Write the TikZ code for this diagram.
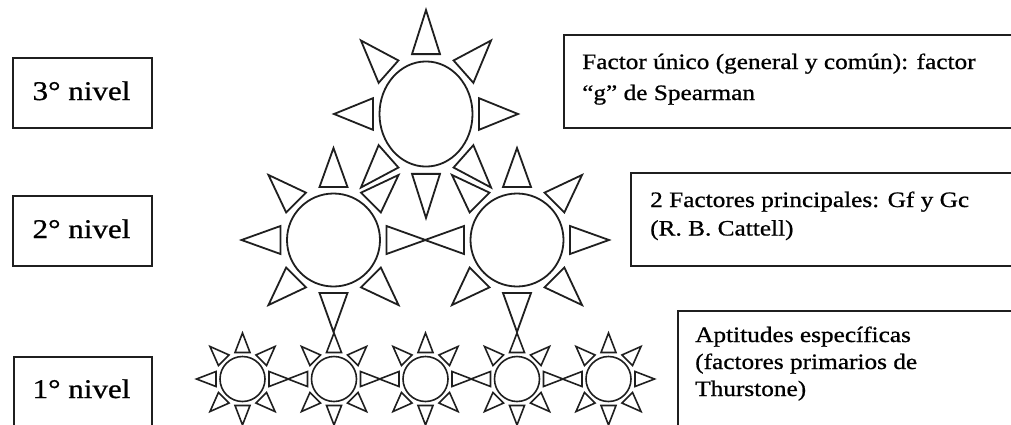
\documentclass[tikz,border=0pt]{standalone}
\usepackage{fontspec}
\setmainfont[FakeStretch=1.15,FakeBold=0.8]{Liberation Serif}
\newcommand\drawsun[8]{% cx cy r b h w yscale linewidth
  \begin{scope}[shift={(#1,#2)}, yscale=#7]
    \draw[line width=#8, draw=ink] (0,0) circle[radius=#3];
    \foreach \a in {0,45,...,315}{
      \draw[line width=#8, draw=ink, line join=miter, rotate=\a]
        (#4,-#6/2) -- (#4+#5,0) -- (#4,#6/2) -- cycle;
    }
  \end{scope}}
\begin{document}
\begin{tikzpicture}[x=1pt,y=-1pt,
  lbox/.style={draw=ink, line width=1.9pt, inner sep=0pt, anchor=north west},
  lvl/.style={font=\fontsize{27}{30}\selectfont, inner sep=0pt, anchor=base},
  desc/.style={inner sep=0pt, anchor=base west}]
\definecolor{ink}{gray}{0.12}
\useasboundingbox (0,0) rectangle (1011,424);
\clip (0,0) rectangle (1011,424);
\fill[white] (0,0) rectangle (1011,424);

% level boxes (left)
\node[lbox, minimum width=139pt, minimum height=70pt] (n3) at (12,57) {};
\node[lvl] (n3t) at (81.5,100) {3° nivel};
\node[lbox, minimum width=139pt, minimum height=70pt] (n2) at (12,195) {};
\node[lvl] (n2t) at (81.5,238) {2° nivel};
\node[lbox, minimum width=138pt, minimum height=90pt] (n1) at (13,356) {};
\node[lvl] (n1t) at (81.5,398) {1° nivel};

% description boxes (right)
\node[lbox, minimum width=470pt, minimum height=93pt] (d3) at (563,34) {};
\node[desc] (d3t) at (582,69) {\parbox[t]{420pt}{\fontsize{22}{31}\selectfont\raggedright
  Factor único (general y común): factor\\“g” de Spearman}};
\node[lbox, minimum width=400pt, minimum height=93pt] (d2) at (630,172) {};
\node[desc] (d2t) at (650,207) {\parbox[t]{360pt}{\fontsize{22}{28.5}\selectfont\raggedright
  2 Factores principales: Gf y Gc\\(R. B. Cattell)}};
\node[lbox, minimum width=360pt, minimum height=140pt] (d1) at (677,310) {};
\node[desc] (d1t) at (695,342) {\parbox[t]{320pt}{\fontsize{22}{27}\selectfont\raggedright
  Aptitudes específicas\\(factores primarios de\\Thurstone)}};

% suns
\drawsun{426}{114}{46.5}{53}{39}{28}{1.13}{1.8pt}
\drawsun{333.5}{240}{46.5}{53}{39}{28}{1}{1.8pt}
\drawsun{517}{240}{46.5}{53}{39}{28}{1}{1.8pt}
\foreach \x in {242.5,334,425.5,517,608.5}{
  \drawsun{\x}{379}{22.5}{26.5}{19.5}{15}{1}{1.6pt}
}
\end{tikzpicture}
\end{document}
